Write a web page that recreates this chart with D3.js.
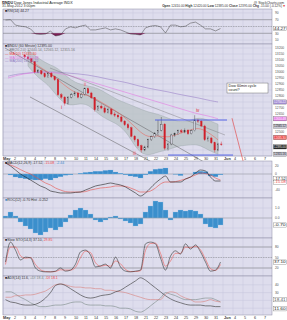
<!DOCTYPE html>
<html><head><meta charset="utf-8">
<script src="https://cdn.jsdelivr.net/npm/d3@7"></script>
<style>
html,body{margin:0;padding:0;background:#fff;}
svg{display:block;font-family:"Liberation Sans",Arial,sans-serif;}
</style></head>
<body><svg id="chart" width="287" height="320"></svg>
<script>
// day axis (trading days, May-Jun 2012)
const dayLabels = ["May","2","3","4","7","8","9","10","11","14","15","16","17","18","21","22","23","24","25","29","30","31","Jun","4","5","6","7"];

// 60 minute candles, 3 per day from 3 May
const priceStartDay = 2;
const priceOpen0 = 13140;
const priceClose = [13125,13110,13085, 13000,13010,12985, 12960,12990,12960, 12935,12810,12790, 12740,12790,12810,
  12825,12790,12815, 12860,12825,12785, 12685,12715,12700, 12665,12690,12650, 12640,12625,12590,
  12560,12535,12465, 12435,12385,12350, 12375,12435,12460, 12485,12515,12565, 12365,12400,12475,
  12485,12510,12500, 12515,12485,12510, 12600,12590,12550, 12435,12450,12410, 12350,12400,12395];
const priceHigh = [13150,13135,13115, 13090,13025,13020, 12995,13000,13000, 12970,12945,12825, 12800,12800,12825,
  12840,12835,12825, 12870,12870,12835, 12790,12725,12730, 12715,12700,12700, 12665,12655,12635,
  12600,12575,12545, 12475,12445,12395, 12385,12445,12470, 12500,12600,12625, 12575,12410,12485,
  12495,12520,12525, 12530,12525,12520, 12640,12610,12600, 12560,12465,12460, 12420,12410,12420];
const priceLow = [13115,13100,13075, 12990,12990,12975, 12950,12950,12950, 12925,12800,12775, 12720,12730,12780,
  12800,12780,12780, 12805,12815,12775, 12670,12675,12690, 12655,12655,12640, 12625,12610,12580,
  12550,12520,12455, 12420,12370,12330, 12340,12365,12425, 12450,12475,12505, 12350,12345,12390,
  12460,12475,12490, 12490,12475,12480, 12505,12575,12540, 12425,12420,12400, 12330,12340,12385];

// daily overlay values (from 3 May)
const bbUpper = [13185,13115,13065,13035,12950,12900,12885,12865,12815,12765,12735,12700,12665,12650,12615,12585,12585,12625,12600,12565];
const bbLower = [13050,12950,12900,12785,12715,12735,12735,12650,12600,12565,12485,12335,12300,12335,12350,12385,12390,12400,12350,12315];
const ma10 = [13115,13050,13000,12935,12865,12815,12810,12765,12715,12665,12600,12515,12450,12475,12450,12485,12510,12540,12500,12435];
// daily overlay values (from 1 May)
const maMagenta = [12950,12975,12990,13000,13000,12990,12975,12950,12925,12900,12875,12850,12825,12800,12775,12750,12725,12700,12675,12650,12635,12610];
const maSlate = [12965,12985,12990,13000,13000,13000,12990,12985,12975,12960,12940,12925,12910,12885,12865,12850,12835,12815,12800,12785,12765,12750];

// indicators, 2 values per day from 1 May
const rsi = [69,70,54,51,49,43,28,27,28,37,22,25,43,49,46,51,54,40,40,43,46,40,43,40,34,28,27,25,46,51,53,49,31,54,54,49,51,60,63,54,43,43,37,44];
const macdLine = [27.5,20,10,0,-7.5,-15,-22.5,-30,-35,-42.5,-45,-47.5,-47.5,-47.5,-46,-45,-40,-35,-30,-27.5,-25,-22.5,-25,-27.5,-32.5,-40,-47.5,-55,-47.5,-35,-22.5,-12.5,-5,-20,-20,-20,-12.5,-7.5,2.5,10,7.5,-7.5,-17.5,-17.5];
const macdSignal = [27.5,22.5,17.5,11,5,0,-7.5,-15,-22.5,-27.5,-35,-40,-44,-45,-45,-45,-44,-40,-37.5,-35,-34,-32.5,-30,-30,-31,-35,-40,-45,-45,-42.5,-35,-25,-20,-20,-19,-16,-12.5,-7.5,-2.5,2.5,1,-2.5,-10,-15];
const macdHist = [0,-2.5,-7.5,-10,-12,-14,-15,-15,-12,-15,-10,-7,-3,-2,0,2,4,5,7,7,9,10,5,2,-2,-5,-7,-10,-2,7,12,13,15,0,-1,-4,0,0,5,7,6,-5,-7,-2];
const roc = [0.2,0.6,0.2,-0.4,-0.8,-1.1,-1.5,-1.7,-1.4,-1.0,-1.2,-0.9,-0.4,0.3,0.8,1.0,0.8,0.4,-0.2,-0.4,-0.2,0.1,0.2,-0.1,-0.3,-0.5,-0.8,-0.6,0.6,1.2,1.7,1.6,0.8,-0.2,0.6,0.8,0.7,0.8,0.7,0.4,-0.6,-0.9,-1.0,-0.7];
const stoK = [37,94,71,43,51,49,20,11,9,9,11,20,11,14,31,66,71,57,23,26,31,20,51,23,11,9,11,14,89,94,89,49,14,54,69,60,89,74,86,66,37,11,14,37];
const stoD = [30,80,80,55,48,50,30,15,10,9,10,15,14,14,22,50,68,64,35,25,28,25,40,32,16,10,10,12,70,90,91,62,25,40,62,62,80,78,82,72,45,18,13,30];
const adx = [21,18,17,15,14,14,15,18,23,30,39,41,39,35,31,27,24,23,24,26,27,28,31,33,37,41,45,49,46,41,36,31,26,22,19,17,15,14,14,14,13,13,12,12];
const minusDI = [24,24,26,26,27,27,28,30,32,36,40,41,40,38,37,37,36,36,35,35,33,33,32,31,30,28,26,24,22,21,21,21,28,31,30,26,23,21,18,18,19,21,19,18];
const plusDI = [31,31,28,24,21,17,14,12,12,13,14,14,15,17,18,18,15,14,14,14,13,13,12,10,10,9,6,5,8,13,18,23,30,28,26,23,21,21,21,22,23,23,21,18];

// annotations in (day, price)
const channelLines = [[0.2,13200,21.5,12183],[2.7,12792,22.9,11892],[4.7,13033,22.2,12475]];
const blueLines = [[15.2,12600,22.4,12600],[16.5,12308,23.0,12308]];
const projection = [22.9,12615,24.6,12067];
const waveLabels = [["i",5.8,12690,"#d22"],["ii",8.1,12885,"#e66"],["iii",13.0,12305,"#e66"],["iv",19.3,12665,"#d22"],["v",24.2,11930,"#d22"],["[i]",24.7,11930,"#55e"]];

const L = 3, R = 272;
const svg = d3.select('#chart');
const x = d3.scaleLinear().domain([0, 26.9]).range([L, R]);
const yP = d3.scaleLinear().domain([12300, 13225]).range([156, 45]);
const yRsi = d3.scaleLinear().domain([0, 100]).range([43.5, 9.5]);
const yMacd = d3.scaleLinear().domain([-60, 32.5]).range([198, 161]);
const yRoc = d3.scaleLinear().domain([-2, 2]).range([238, 198]);
const ySto = d3.scaleLinear().domain([0, 100]).range([275, 240]);
const yAdx = d3.scaleLinear().domain([0, 50]).range([316, 277]);

const halfDay = i => (i + 0.5) / 2;
const grid = '#c7c6dd', bg = '#dedded';
const tagYs = [];

function panel(top, bottom, y, ticks, fmt) {
  const g = svg.append('g');
  g.append('rect').attr('x', L).attr('y', top).attr('width', R - L).attr('height', bottom - top).attr('fill', bg);
  g.selectAll(null).data(d3.range(dayLabels.length)).enter().append('line')
    .attr('x1', d => x(d)).attr('x2', d => x(d)).attr('y1', top).attr('y2', bottom)
    .attr('stroke', grid).attr('stroke-width', 0.5);
  g.selectAll(null).data(ticks).enter().append('line')
    .attr('x1', L).attr('x2', R).attr('y1', d => y(d)).attr('y2', d => y(d))
    .attr('stroke', grid).attr('stroke-width', 0.5);
  g.append('rect').attr('x', L).attr('y', top).attr('width', R - L).attr('height', bottom - top)
    .attr('fill', 'none').attr('stroke', '#8c8ca4').attr('stroke-width', 0.5);
  svg.append('g').selectAll(null).data(ticks).enter().append('text')
    .attr('class', 'tick').attr('x', R + 3).attr('y', d => y(d) + 1.2).attr('font-size', 3.3).attr('fill', '#555')
    .text(d => fmt ? fmt(d) : d);
  return g;
}

function tag(yv, label, fill, color) {
  tagYs.push(yv);
  svg.append('rect').attr('x', R + 1.5).attr('y', yv - 2.1).attr('width', 13).attr('height', 4.2)
    .attr('fill', fill).attr('stroke', '#555').attr('stroke-width', 0.3);
  svg.append('text').attr('x', R + 2.1).attr('y', yv + 1.2).attr('font-size', 3.2).attr('fill', color)
    .attr('textLength', 11.6).attr('lengthAdjust', 'spacingAndGlyphs').text(label);
}

function dateRow(yb) {
  svg.append('g').selectAll(null).data(dayLabels).enter().append('text')
    .attr('x', (d, i) => x(i) + (i === 0 ? 0 : 1)).attr('y', yb).attr('font-size', 3.8)
    .attr('font-weight', d => isNaN(+d) ? 'bold' : 'normal').attr('fill', '#333').text(d => d);
}

function legend(yb, parts) {
  const t = svg.append('text').attr('x', 5).attr('y', yb).attr('font-size', 3.5);
  parts.forEach(p => t.append('tspan').attr('fill', p[1]).text(p[0]));
}

// header
svg.append('text').attr('x', 2).attr('y', 3.6).attr('font-size', 3.7).attr('fill', '#222')
  .html('<tspan font-weight="bold">$INDU</tspan> Dow Jones Industrial Average INDX');
svg.append('text').attr('x', 2).attr('y', 7).attr('font-size', 3.5).attr('fill', '#333').text('31-May-2012 3:00pm');
svg.append('text').attr('x', 284).attr('y', 3.6).attr('font-size', 3.4).attr('fill', '#333').attr('text-anchor', 'end').text('@ StockCharts.com');
svg.append('text').attr('x', 282).attr('y', 7).attr('font-size', 3.2).attr('fill', '#333').attr('text-anchor', 'end')
  .html('<tspan font-weight="bold">Open</tspan> 12410.00 <tspan font-weight="bold">High</tspan> 12420.00 <tspan font-weight="bold">Low</tspan> 12385.00 <tspan font-weight="bold">Close</tspan> 12395.00 <tspan font-weight="bold">Chg</tspan> -15.00 (-0.12%)');
svg.append('text').attr('x', 282.6).attr('y', 7).attr('font-size', 3.2).attr('fill', '#d00').text('▼');

// RSI panel
panel(9, 44, yRsi, [10, 30, 50, 70, 90]);
[30, 70].forEach(v => svg.append('line').attr('x1', L).attr('x2', R).attr('y1', yRsi(v)).attr('y2', yRsi(v)).attr('stroke', '#777').attr('stroke-width', 0.5));
svg.append('line').attr('x1', L).attr('x2', R).attr('y1', yRsi(50)).attr('y2', yRsi(50)).attr('stroke', '#888').attr('stroke-width', 0.5).attr('stroke-dasharray', '1.5,1');
svg.append('path').datum(rsi).attr('fill', '#7c1d55')
  .attr('d', d3.area().x((d, i) => x(halfDay(i))).y0(yRsi(30)).y1(d => yRsi(Math.min(d, 30))));
svg.append('path').datum(rsi).attr('fill', 'none').attr('stroke', '#444').attr('stroke-width', 0.5)
  .attr('d', d3.line().x((d, i) => x(halfDay(i))).y(d => yRsi(d)));
legend(11.5, [['■', '#222'], ['RSI(14) 44.27', '#333']]);
tag(yRsi(rsi[rsi.length - 1]), '44.27', '#fff', '#222');

// main price panel
panel(44, 156, yP, d3.range(12300, 13201, 50));
const dayX = (start, i) => x(start + i + 0.5);
svg.append('path').datum(bbUpper).attr('fill', '#bac3c6').attr('fill-opacity', 0.8).attr('stroke', '#96a1a4').attr('stroke-width', 0.4)
  .attr('d', d3.area().curve(d3.curveBasis).x((d, i) => dayX(priceStartDay, i)).y0((d, i) => yP(bbLower[i])).y1(d => yP(d)));
svg.append('path').datum(maSlate).attr('fill', 'none').attr('stroke', '#9a82c8').attr('stroke-width', 0.6)
  .attr('d', d3.line().curve(d3.curveBasis).x((d, i) => dayX(0, i)).y(d => yP(d)));
svg.append('path').datum(maMagenta).attr('fill', 'none').attr('stroke', '#e27be2').attr('stroke-width', 0.6)
  .attr('d', d3.line().curve(d3.curveBasis).x((d, i) => dayX(0, i)).y(d => yP(d)));
svg.append('g').selectAll(null).data(channelLines).enter().append('line')
  .attr('x1', d => x(d[0])).attr('y1', d => yP(d[1])).attr('x2', d => x(d[2])).attr('y2', d => yP(d[3]))
  .attr('stroke', '#6e6e72').attr('stroke-width', (d, i) => i === 2 ? 0.4 : 0.6);
svg.append('path').datum(ma10).attr('fill', 'none').attr('stroke', '#ee5a50').attr('stroke-width', 0.5)
  .attr('d', d3.line().curve(d3.curveBasis).x((d, i) => dayX(priceStartDay, i)).y(d => yP(d)));

const bars = priceClose.map((c, i) => ({
  d: priceStartDay + (i + 0.5) / 3,
  o: i === 0 ? priceOpen0 : priceClose[i - 1], c: c, h: priceHigh[i], l: priceLow[i]
}));
const cg = svg.append('g');
cg.selectAll(null).data(bars).enter().append('line')
  .attr('x1', b => x(b.d)).attr('x2', b => x(b.d)).attr('y1', b => yP(b.h)).attr('y2', b => yP(b.l))
  .attr('stroke', b => b.c < b.o ? '#d01f2a' : '#333').attr('stroke-width', 0.4);
cg.selectAll(null).data(bars).enter().append('rect')
  .attr('x', b => x(b.d) - 0.75).attr('width', 1.5)
  .attr('y', b => yP(Math.max(b.o, b.c))).attr('height', b => Math.max(0.6, Math.abs(yP(b.o) - yP(b.c))))
  .attr('fill', b => b.c < b.o ? '#d01f2a' : bg).attr('stroke', b => b.c < b.o ? '#d01f2a' : '#333').attr('stroke-width', 0.35);

svg.append('g').selectAll(null).data(blueLines).enter().append('line')
  .attr('x1', d => x(d[0])).attr('y1', d => yP(d[1])).attr('x2', d => x(d[2])).attr('y2', d => yP(d[3]))
  .attr('stroke', '#4a5ae6').attr('stroke-width', 0.9);
svg.append('line').attr('x1', x(projection[0])).attr('y1', yP(projection[1])).attr('x2', x(projection[2])).attr('y2', yP(projection[3]))
  .attr('stroke', '#e23a3a').attr('stroke-width', 0.6);
svg.append('circle').attr('cx', x(projection[2])).attr('cy', yP(projection[3])).attr('r', 0.9).attr('fill', '#d22');
svg.append('g').selectAll(null).data(waveLabels).enter().append('text')
  .attr('x', d => x(d[1])).attr('y', d => yP(d[2])).attr('font-size', 4.6).attr('fill', d => d[3]).text(d => d[0]);

// note box
const bx0 = x(22.4), bx1 = x(26.5), by0 = yP(12908), by1 = yP(12825);
svg.append('rect').attr('x', bx0).attr('y', by0).attr('width', bx1 - bx0).attr('height', by1 - by0)
  .attr('fill', '#fff').attr('stroke', '#555').attr('stroke-width', 0.4);
svg.append('text').attr('x', bx0 + 1.5).attr('y', by0 + 3.9).attr('font-size', 3.7).attr('fill', '#222').text('Dow 60min cycle');
svg.append('text').attr('x', bx0 + 1.5).attr('y', by0 + 8.2).attr('font-size', 3.7).attr('fill', '#222').text('count?');

legend(46.6, [['■', '#222'], ['$INDU (60 Minute) 12395.00', '#333']]);
legend(50.6, [['— BB(20,2.0) 12440.14, 12565.12, 12315.16', '#777']]);
legend(54.6, [['— MA(10) 12435.30', '#e44']]);
legend(58.6, [['— MA(100) 12610.48', '#d86cd8']]);
legend(62.4, [['— MA(200) 12750.22', '#8f78c0']]);

tag(yP(maSlate[maSlate.length - 1]), '12750.22', '#a58fd6', '#fff');
tag(yP(maMagenta[maMagenta.length - 1]), '12610.48', '#e87ee8', '#fff');
tag(yP(bbUpper[bbUpper.length - 1]) + 2, '12565.12', '#c8c8d4', '#222');
tag(yP(ma10[ma10.length - 1]) - 2.3, '12435.30', '#e44', '#fff');
tag(yP(priceClose[priceClose.length - 1]) + 2.3, '12395.00', '#222', '#fff');
tag(yP(bbLower[bbLower.length - 1]), '12315.16', '#c8c8d4', '#222');

dateRow(160);

// MACD panel
panel(161, 198, yMacd, [20, 0, -20, -40]);
svg.append('line').attr('x1', L).attr('x2', R).attr('y1', yMacd(0)).attr('y2', yMacd(0)).attr('stroke', '#888').attr('stroke-width', 0.4);
svg.append('g').selectAll(null).data(macdHist).enter().append('rect')
  .attr('x', (d, i) => x(halfDay(i)) - 2.5).attr('width', 5)
  .attr('y', d => yMacd(Math.max(0, d))).attr('height', d => Math.abs(yMacd(d) - yMacd(0)))
  .attr('fill', '#3a8ccb').attr('stroke', '#8cbde4').attr('stroke-width', 0.25);
svg.append('path').datum(macdSignal).attr('fill', 'none').attr('stroke', '#e8504a').attr('stroke-width', 0.6)
  .attr('d', d3.line().curve(d3.curveMonotoneX).x((d, i) => x(halfDay(i))).y(d => yMacd(d)));
svg.append('path').datum(macdLine).attr('fill', 'none').attr('stroke', '#222').attr('stroke-width', 0.6)
  .attr('d', d3.line().curve(d3.curveMonotoneX).x((d, i) => x(halfDay(i))).y(d => yMacd(d)));
legend(164.3, [['■', '#222'], ['MACD(12,26,9) -17.52, ', '#333'], ['-15.08', '#e44'], [', -2.44', '#3a8ccb']]);
tag(yMacd(macdLine[macdLine.length - 1]) - 2.2, '-17.52', '#fff', '#222');
tag(yMacd(macdSignal[macdSignal.length - 1]) + 2.2, '-15.08', '#fff', '#e44');

// second histogram panel
panel(198, 238, yRoc, [1, 0, -1], d => d.toFixed(1));
svg.append('g').selectAll(null).data(roc).enter().append('rect')
  .attr('x', (d, i) => x(halfDay(i)) - 2.5).attr('width', 5)
  .attr('y', d => yRoc(Math.max(0, d))).attr('height', d => Math.abs(yRoc(d) - yRoc(0)))
  .attr('fill', '#3b8fcc').attr('stroke', '#9ac6ea').attr('stroke-width', 0.3);
svg.append('line').attr('x1', L).attr('x2', R).attr('y1', yRoc(0)).attr('y2', yRoc(0)).attr('stroke', '#888').attr('stroke-width', 0.4);
legend(201.3, [['■', '#3b8fcc'], ['ROC(12) -0.70 Hist -0.252', '#333']]);
tag(yRoc(roc[roc.length - 1]), '-0.70', '#fff', '#222');

// stochastics panel
panel(238, 276, ySto, [20, 50, 80]);
[20, 80].forEach(v => svg.append('line').attr('x1', L).attr('x2', R).attr('y1', ySto(v)).attr('y2', ySto(v)).attr('stroke', '#777').attr('stroke-width', 0.5));
svg.append('line').attr('x1', L).attr('x2', R).attr('y1', ySto(50)).attr('y2', ySto(50)).attr('stroke', '#888').attr('stroke-width', 0.5).attr('stroke-dasharray', '1.5,1');
svg.append('path').datum(stoD).attr('fill', 'none').attr('stroke', '#ee5a55').attr('stroke-width', 0.6)
  .attr('d', d3.line().curve(d3.curveMonotoneX).x((d, i) => x(halfDay(i))).y(d => ySto(d)));
svg.append('path').datum(stoK).attr('fill', 'none').attr('stroke', '#333').attr('stroke-width', 0.6)
  .attr('d', d3.line().curve(d3.curveMonotoneX).x((d, i) => x(halfDay(i))).y(d => ySto(d)));
legend(241.3, [['■', '#222'], ['Slow STO(14,3) 37.10, ', '#333'], ['29.85', '#e44']]);
tag(ySto(stoK[stoK.length - 1]), '37.10', '#fff', '#222');

// ADX panel
panel(276, 315, yAdx, [10, 20, 30, 40]);
[[plusDI, '#7a8a86'], [minusDI, '#d9807a'], [adx, '#333']].forEach(s =>
  svg.append('path').datum(s[0]).attr('fill', 'none').attr('stroke', s[1]).attr('stroke-width', 0.6)
    .attr('d', d3.line().curve(d3.curveMonotoneX).x((d, i) => x(halfDay(i))).y(d => yAdx(d))));
legend(279.3, [['■', '#222'], ['ADX(14) 11.6, ', '#333'], ['+DI 18.4, ', '#7a8a86'], ['-DI 18.1', '#e44']]);
tag(yAdx(adx[adx.length - 1]) + 2.2, '11.60', '#fff', '#222');
tag(yAdx(plusDI[plusDI.length - 1]) - 2.2, '18.41', '#fff', '#555');

dateRow(319);

// hide axis numbers hidden under the value tags
svg.selectAll('text.tick').filter(function () {
  const ty = +this.getAttribute('y') - 1.2;
  return tagYs.some(t => Math.abs(t - ty) < 4.3);
}).remove();
</script>
</body></html>
